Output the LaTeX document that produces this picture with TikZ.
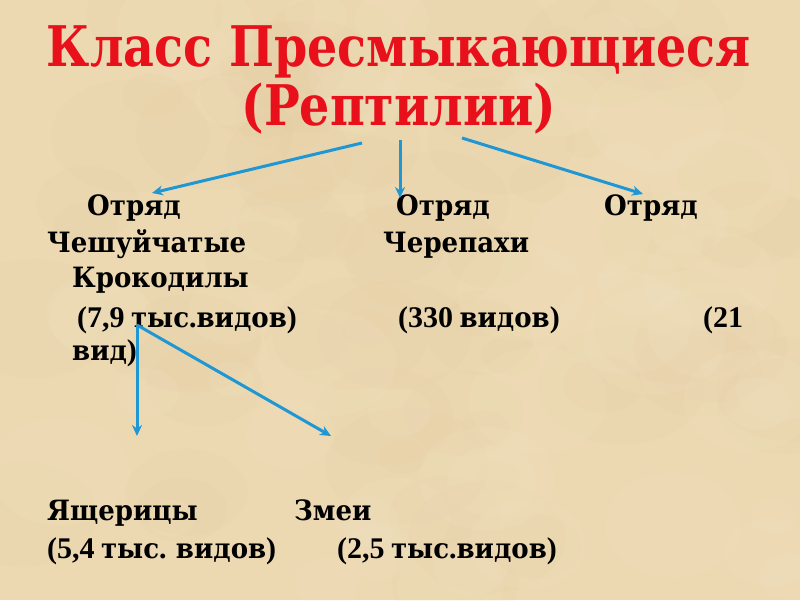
\documentclass[tikz,border=0pt]{standalone}
\usepackage{fontspec}
\setmainfont[FakeStretch=0.93, WordSpace=0.7]{DejaVu Serif}
\newfontfamily\titlefont[FakeStretch=0.85]{DejaVu Serif}
\newfontfamily\digitfont{Liberation Serif}
\newcommand{\dg}[1]{{\digitfont\fontsize{30}{32}\selectfont #1}}
\usetikzlibrary{arrows.meta}
\definecolor{parchment}{HTML}{ECD9B2}
\definecolor{parchdark}{HTML}{DFC596}
\definecolor{parchlight}{HTML}{F5E8CC}
\definecolor{titlered}{HTML}{E8101A}
\definecolor{arrowblue}{HTML}{1F97D4}

\begin{document}
\begin{tikzpicture}[x=1pt, y=-1pt,
  every node/.style={inner sep=0pt, anchor=base west,
                     font=\bfseries\fontsize{28}{32}\selectfont},
  titletext/.style={anchor=base, text=titlered,
                    font=\titlefont\bfseries\fontsize{56}{60}\selectfont},
  arr/.style={-{Stealth[length=11pt,width=10pt]}, draw=arrowblue, line width=3pt}
]
  % Background sheet
  \useasboundingbox (0,0) rectangle (800,600);
  \begin{scope}
    \clip (0,0) rectangle (800,600);
    \fill[parchment] (0,0) rectangle (800,600);
    \pgfmathsetseed{4217}
    \foreach \i in {1,...,70} {
      \pgfmathsetmacro{\bx}{rnd*800}
      \pgfmathsetmacro{\by}{rnd*600}
      \pgfmathsetmacro{\br}{15+rnd*45}
      \fill[parchdark, opacity=0.08] (\bx,\by) ellipse ({\br*1.4} and \br);
    }
    \foreach \i in {1,...,50} {
      \pgfmathsetmacro{\bx}{rnd*800}
      \pgfmathsetmacro{\by}{rnd*600}
      \pgfmathsetmacro{\br}{15+rnd*40}
      \fill[parchlight, opacity=0.12] (\bx,\by) ellipse ({\br*1.3} and \br);
    }
  \end{scope}

  % Title
  \node[titletext] (title1) at (399,66) {Класс Пресмыкающиеся};
  \node[titletext] (title2) at (399,125) {(Рептилии)};

  % Orders
  \node (otr1) at (87,215) {Отряд};
  \node (otr2) at (396,215) {Отряд};
  \node (otr3) at (604,215) {Отряд};
  \node (squam) at (47,252) {Чешуйчатые};
  \node (turt) at (383,252) {Черепахи};
  \node (croc) at (72,287) {Крокодилы};
  \node (squamnum) at (77,327) {\dg{(7,9} тыс\dg{.}видов\dg{)}};
  \node (turtnum) at (398,327) {\dg{(330} видов\dg{)}};
  \node (crocnum) at (703,327) {\dg{(21}};
  \node (crocnum2) at (72,360) {вид\dg{)}};

  % Suborders
  \node (lizard) at (47,520) {Ящерицы};
  \node (snake) at (294,520) {Змеи};
  \node (lizardnum) at (47,558) {\dg{(5,4} тыс\dg{.} видов\dg{)}};
  \node (snakenum) at (337,558) {\dg{(2,5} тыс\dg{.}видов\dg{)}};

  % Arrow ends
  \coordinate (t1) at (362,143);
  \coordinate (t2) at (400,140);
  \coordinate (t3) at (462,138);
  \coordinate (o1) at (152,193);
  \coordinate (o2) at (400,198);
  \coordinate (o3) at (643,194);
  \coordinate (sq) at (137,325);
  \coordinate (lz) at (137,436);
  \coordinate (sn) at (331,436);

  \draw[arr] (t1) -- (o1);
  \draw[arr] (t2) -- (o2);
  \draw[arr] (t3) -- (o3);
  \draw[arr] (sq) -- (lz);
  \draw[arr] (sq) -- (sn);
\end{tikzpicture}
\end{document}
